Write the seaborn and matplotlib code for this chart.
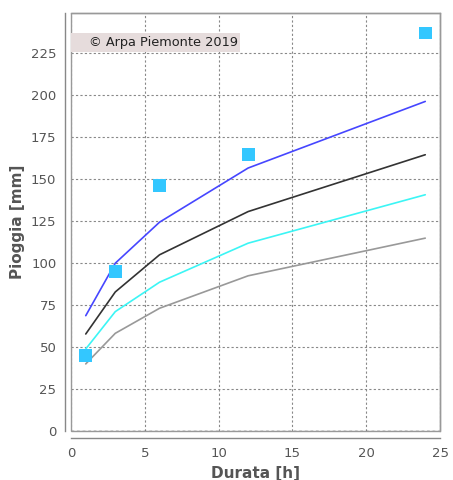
import numpy as np
import pandas as pd
import matplotlib
matplotlib.use('Agg')
import matplotlib.pyplot as plt
import seaborn as sns
from matplotlib.patches import Rectangle

# durations (h) and rainfall curves (mm)
durata = [1, 3, 6, 12, 24]
curva_blu = [68.6, 99.8, 124.2, 156.4, 196.0]
curva_nera = [57.7, 82.7, 104.8, 130.5, 164.3]
curva_ciano = [48.8, 71.0, 88.5, 111.7, 140.5]
curva_grigia = [39.9, 58.1, 73.0, 92.3, 114.7]
osservati = [44.8, 94.8, 146.0, 164.3, 236.7]

x_ticks = [0, 5, 10, 15, 20, 25]
y_ticks = [0, 25, 50, 75, 100, 125, 150, 175, 200, 225]

sns.set_style('white')
plt.rcParams['font.family'] = ['DejaVu Sans']

curves = pd.DataFrame({
    'durata': durata * 4,
    'pioggia': curva_blu + curva_nera + curva_ciano + curva_grigia,
    'serie': ['blu'] * 5 + ['nera'] * 5 + ['ciano'] * 5 + ['grigia'] * 5,
})
palette = {'blu': '#4646ff', 'nera': '#333333', 'ciano': '#3cf5f5', 'grigia': '#999999'}

fig = plt.figure(figsize=(4.53, 4.80), dpi=100)
ax = fig.add_axes([71 / 453, 1 - 431 / 480, (440 - 71) / 453, (431 - 13) / 480])

sns.lineplot(data=curves, x='durata', y='pioggia', hue='serie', palette=palette,
             linewidth=1.2, legend=False, ax=ax, zorder=3)
sns.scatterplot(x=durata, y=osservati, marker='s', s=85, color='#33c7ff',
                edgecolor='none', ax=ax, zorder=4)

ax.set_xlim(0, 25)
ax.set_ylim(0, 248.6)
ax.set_xticks(x_ticks)
ax.set_yticks(y_ticks)
ax.grid(True, color='#888888', linestyle=(0, (2, 2)), linewidth=0.8)
ax.set_axisbelow(True)

# plot border + offset axis lines
for side in ['top', 'right']:
    ax.spines[side].set_color('#999999')
    ax.spines[side].set_linewidth(1.0)
ax.spines['left'].set_position(('outward', 4))
ax.spines['bottom'].set_position(('outward', 5))
for side in ['left', 'bottom']:
    ax.spines[side].set_color('#888888')
    ax.spines[side].set_linewidth(1.0)
ax.add_patch(Rectangle((0, 0), 1, 1, transform=ax.transAxes, fill=False,
                       edgecolor='#999999', linewidth=1.0, zorder=5, clip_on=False))
ax.axhline(0, color='#444444', linestyle=(0, (2, 2)), linewidth=1.0, zorder=2)

ax.tick_params(axis='both', direction='out', length=3, width=0.8, color='#888888',
               labelcolor='#555555', labelsize=9.5)
ax.set_xlabel('Durata [h]', fontsize=11, fontweight='bold', color='#555555')
ax.set_ylabel('Pioggia [mm]', fontsize=11, fontweight='bold', color='#555555')

# copyright label on a light box flush with the left border
ax.add_patch(Rectangle((0, 0.907), 0.458, 0.045, transform=ax.transAxes,
                       facecolor='#e6dcdc', edgecolor='none', zorder=5))
ax.text(0.048, 0.929, '\u00a9 Arpa Piemonte 2019', transform=ax.transAxes,
        fontsize=9.3, color='#222222', va='center', ha='left', zorder=6)

fig.savefig('out.png', dpi=100)
